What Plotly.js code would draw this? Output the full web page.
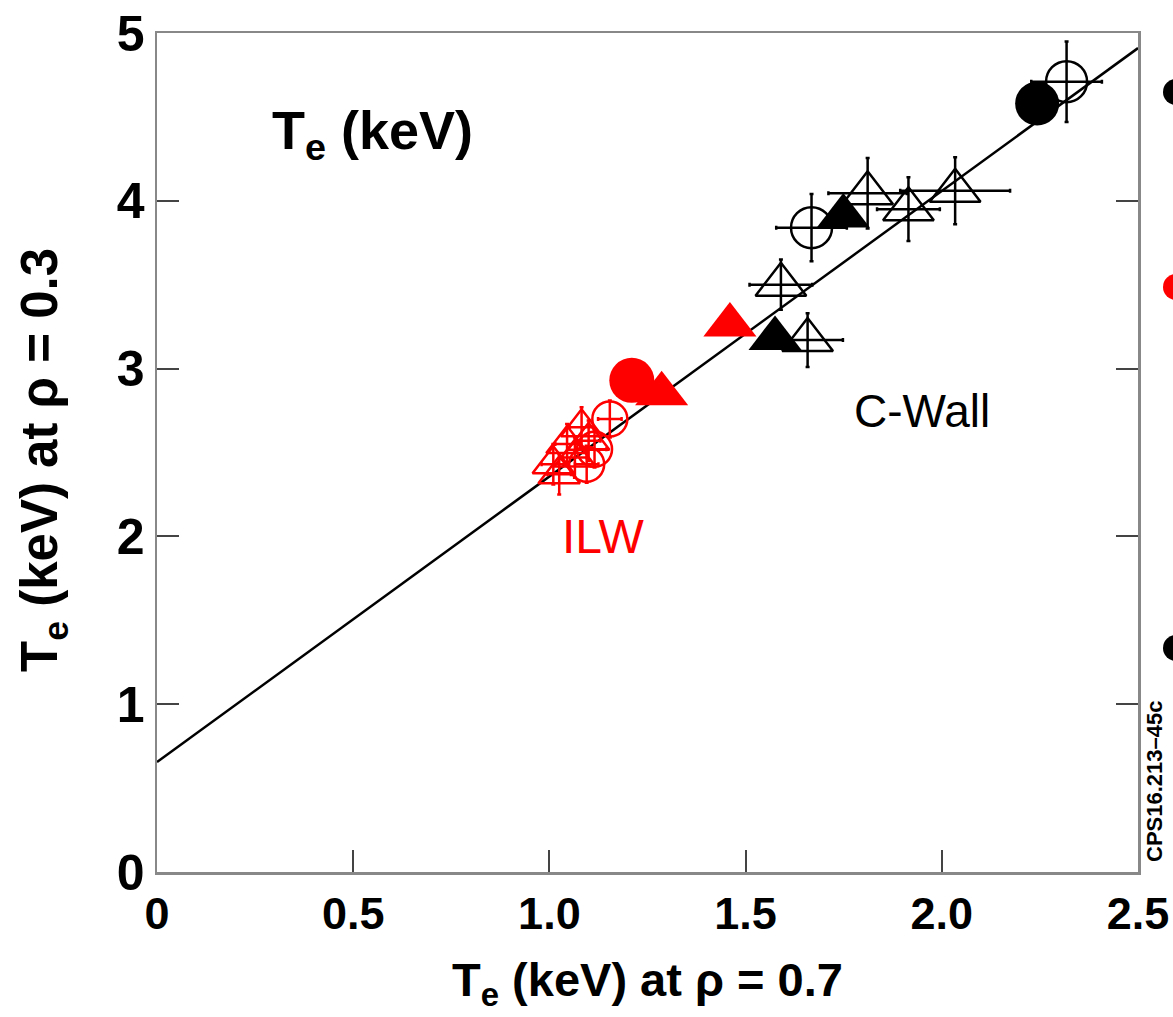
<!DOCTYPE html>
<html>
<head>
<meta charset="utf-8">
<script src="https://cdn.plot.ly/plotly-3.0.1.min.js"></script>
<style>html,body{margin:0;padding:0;background:#fff;}#chart{width:1173px;height:1017px;}</style>
</head>
<body>
<div id="chart"></div>
<script>
// ---- Data (Te at rho=0.7 vs Te at rho=0.3, keV) ----
// C-Wall (black), filled symbols
const cwFilledCircleX = [2.243];
const cwFilledCircleY = [4.58];
const cwFilledTriX = [1.749, 1.575];
const cwFilledTriY = [3.91, 3.18];
// C-Wall open symbols with error bars
const cwOpenCircleX = [2.318, 1.668];
const cwOpenCircleY = [4.71, 3.84];
const cwOpenCircleEx = [0.09, 0.09];
const cwOpenCircleEy = [0.24, 0.20];
const cwOpenTriX = [1.811, 1.915, 2.034, 1.590, 1.658];
const cwOpenTriY = [4.045, 3.95, 4.06, 3.50, 3.17];
const cwOpenTriEx = [0.10, 0.08, 0.14, 0.08, 0.09];
const cwOpenTriEy = [0.21, 0.19, 0.20, 0.15, 0.16];
// ILW (red), filled symbols
const ilwFilledCircleX = [1.21];
const ilwFilledCircleY = [2.93];
const ilwFilledTriX = [1.286, 1.46];
const ilwFilledTriY = [2.85, 3.26];
// ILW open symbols with error bars
const ilwOpenCircleX = [1.154, 1.115, 1.095];
const ilwOpenCircleY = [2.70, 2.52, 2.43];
const ilwOpenCircleEx = [0.03, 0.03, 0.03];
const ilwOpenCircleEy = [0.11, 0.11, 0.11];
const ilwOpenTriX = [1.082, 1.010, 1.045, 1.065, 1.100, 1.025];
const ilwOpenTriY = [2.65, 2.43, 2.55, 2.47, 2.57, 2.37];
const ilwOpenTriEx = [0.03, 0.03, 0.03, 0.03, 0.03, 0.03];
const ilwOpenTriEy = [0.12, 0.12, 0.12, 0.12, 0.12, 0.12];
// Linear fit line
const fitX = [0, 2.5];
const fitY = [0.655, 4.91];
// Axis ticks
const xTickVals = [0, 0.5, 1.0, 1.5, 2.0, 2.5];
const xTickText = ['0', '0.5', '1.0', '1.5', '2.0', '2.5'];
const yTickVals = [0, 1, 2, 3, 4, 5];
const yTickText = ['0', '1', '2', '3', '4', '5'];

const FONT = 'Liberation Sans, Arial, Helvetica, sans-serif';
const RED = '#ff0000';
const BLK = '#000000';

function errTrace(x, y, ex, ey, sym, color, size) {
  return {
    x: x, y: y, type: 'scatter', mode: 'markers', showlegend: false, cliponaxis: false,
    marker: {symbol: sym, size: size, color: color, line: {color: color, width: 2.5}},
    error_x: {type: 'data', array: ex, visible: true, color: color, thickness: 2.5, width: 2},
    error_y: {type: 'data', array: ey, visible: true, color: color, thickness: 2.5, width: 2}
  };
}
function filledTrace(x, y, sym, color, size) {
  return {
    x: x, y: y, type: 'scatter', mode: 'markers', showlegend: false, cliponaxis: false,
    marker: {symbol: sym, size: size, color: color, line: {width: 0}}
  };
}

const traces = [
  {x: fitX, y: fitY, type: 'scatter', mode: 'lines', showlegend: false,
   line: {color: '#000', width: 2.5}},
  errTrace(ilwOpenTriX, ilwOpenTriY, ilwOpenTriEx, ilwOpenTriEy, 'triangle-up-open', RED, 36),
  errTrace(ilwOpenCircleX, ilwOpenCircleY, ilwOpenCircleEx, ilwOpenCircleEy, 'circle-open', RED, 35),
  filledTrace(ilwFilledCircleX, ilwFilledCircleY, 'circle', RED, 45),
  filledTrace(ilwFilledTriX, ilwFilledTriY, 'triangle-up', RED, 46),
  errTrace(cwOpenTriX, cwOpenTriY, cwOpenTriEx, cwOpenTriEy, 'triangle-up-open', BLK, 44),
  errTrace(cwOpenCircleX, cwOpenCircleY, cwOpenCircleEx, cwOpenCircleEy, 'circle-open', BLK, 41),
  filledTrace(cwFilledCircleX, cwFilledCircleY, 'circle', BLK, 44),
  filledTrace(cwFilledTriX, cwFilledTriY, 'triangle-up', BLK, 46)
];

const L = 157, T = 33, W = 981, H = 839;
function legendDot(cy, color) {
  const px0 = 1163, px1 = 1189, py0 = cy - 13, py1 = cy + 13;
  return {type: 'circle', xref: 'paper', yref: 'paper', layer: 'above',
    x0: (px0 - L) / W, x1: (px1 - L) / W,
    y0: (T + H - py1) / H, y1: (T + H - py0) / H,
    fillcolor: color, line: {width: 0}};
}

const layout = {
  width: 1173, height: 1017,
  margin: {l: 157, r: 35, t: 33, b: 145},
  paper_bgcolor: '#fff', plot_bgcolor: '#fff',
  showlegend: false,
  font: {family: FONT, color: '#000'},
  xaxis: {
    range: [0, 2.5], tickvals: xTickVals, ticktext: xTickText,
    ticks: 'inside', ticklen: 22, tickwidth: 2, tickcolor: '#444',
    showline: true, linecolor: '#888', linewidth: 2.5, mirror: true,
    showgrid: false, zeroline: false,
    tickfont: {family: FONT, size: 45, color: '#000', weight: 'bold'},
    title: {text: '<b>T<sub>e</sub> (keV) at ρ = 0.7</b>', font: {family: FONT, size: 47, color: '#000'}, standoff: 26}
  },
  yaxis: {
    range: [0, 5], tickvals: yTickVals, ticktext: yTickText,
    ticks: 'inside', ticklen: 22, tickwidth: 2, tickcolor: '#444',
    showline: true, linecolor: '#888', linewidth: 2.5, mirror: 'ticks',
    showgrid: false, zeroline: false,
    tickfont: {family: FONT, size: 50, color: '#000', weight: 'bold'}
  },
  annotations: [
    {x: (44 - L) / W, y: (T + H - 460) / H, xref: 'paper', yref: 'paper',
     xanchor: 'center', yanchor: 'middle', textangle: -90, showarrow: false,
     text: '<b>T<sub>e</sub> (keV) at ρ = 0.3</b>', font: {family: FONT, size: 51, color: '#000'}},
    {x: 0.55, y: 4.40, xref: 'x', yref: 'y', text: '<b>T<sub>e</sub> (keV)</b>', showarrow: false,
     font: {family: FONT, size: 54, color: '#000'}},
    {x: 1.95, y: 2.75, xref: 'x', yref: 'y', text: 'C-Wall', showarrow: false,
     font: {family: FONT, size: 46, color: '#000'}},
    {x: 1.137, y: 2.0, xref: 'x', yref: 'y', text: 'ILW', showarrow: false,
     font: {family: FONT, size: 48, color: RED}},
    {x: (1154 - L) / W, y: (T + H - 782) / H, xref: 'paper', yref: 'paper',
     xanchor: 'center', yanchor: 'middle', text: '<b>CPS16.213–45c</b>',
     textangle: -90, showarrow: false, font: {family: FONT, size: 22, color: '#000'}}
  ],
  shapes: [legendDot(92, '#000'), legendDot(287, RED), legendDot(648, '#000')]
};

Plotly.newPlot('chart', traces, layout, {displayModeBar: false, staticPlot: true});
</script>
</body>
</html>
